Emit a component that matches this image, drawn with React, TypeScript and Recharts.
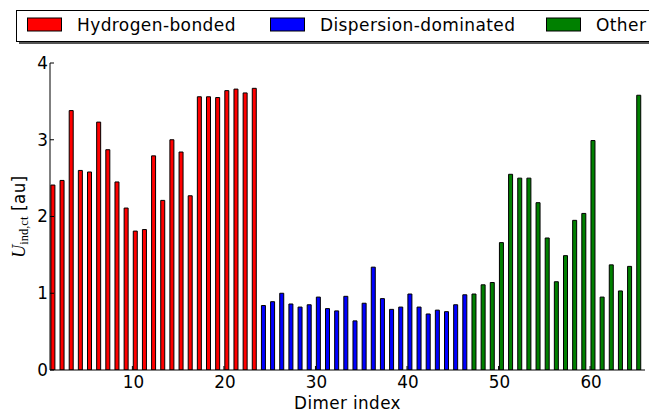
import React from 'react';
import { BarChart, Bar, XAxis, YAxis, Cell } from 'recharts';

// ---- data ----
const hydrogenBonded = [2.41, 2.47, 3.38, 2.6, 2.58, 3.23, 2.87, 2.45, 2.11, 1.81, 1.83, 2.79, 2.21, 3.0, 2.84, 2.27, 3.56, 3.56, 3.55, 3.64, 3.66, 3.61, 3.67];
const dispersionDominated = [0.84, 0.89, 1.0, 0.86, 0.82, 0.85, 0.95, 0.8, 0.77, 0.96, 0.64, 0.87, 1.34, 0.93, 0.79, 0.82, 0.99, 0.82, 0.73, 0.78, 0.76, 0.85, 0.98];
const other = [0.99, 1.11, 1.14, 1.66, 2.55, 2.5, 2.5, 2.18, 1.72, 1.15, 1.49, 1.95, 2.04, 2.99, 0.95, 1.37, 1.03, 1.35, 3.58];

const groupNames = ['Hydrogen-bonded', 'Dispersion-dominated', 'Other'];
const groupColors = ['#ff0000', '#0000ff', '#008000'];
const xTicks = [10, 20, 30, 40, 50, 60];
const yTicks = [0, 1, 2, 3, 4];
const xDomain: [number, number] = [1, 66];
const yDomain: [number, number] = [0, 4];

// bars are edge-aligned (left edge at the index), width ~0.55
const BAR_CENTER_SHIFT = 0.27;

const groups = [hydrogenBonded, dispersionDominated, other];
const data: { index: number; pos: number; value: number; group: number }[] = [];
groups.forEach((vals, g) =>
  vals.forEach((v) => {
    const index = data.length + 1;
    data.push({ index, pos: index + BAR_CENTER_SHIFT, value: v, group: g });
  })
);

const FONT = 'DejaVu Sans';
const FS = 16.8;
const LS = 0.4;
const TICK_LEN = 4;
const AX = '#000';

const BottomTick = (props: any) => {
  const { x, y, payload } = props;
  return (
    <g>
      <line x1={x} x2={x} y1={y} y2={y - TICK_LEN} stroke={AX} strokeWidth={1} />
      <text x={x + 1} y={y + 18.3} textAnchor="middle" fontSize={FS} fontFamily={FONT} fill="#000">
        {payload.value}
      </text>
    </g>
  );
};

const TopTick = (props: any) => {
  const { x, y } = props;
  return <line x1={x} x2={x} y1={y} y2={y + TICK_LEN} stroke={AX} strokeWidth={1} />;
};

const LeftTick = (props: any) => {
  const { x, y, payload } = props;
  return (
    <g>
      <line x1={x} x2={x + TICK_LEN} y1={y} y2={y} stroke={AX} strokeWidth={1} />
      <text x={x - 2} y={y + 5.8} textAnchor="end" fontSize={FS} fontFamily={FONT} fill="#000">
        {payload.value}
      </text>
    </g>
  );
};

const RightTick = (props: any) => {
  const { x, y } = props;
  return <line x1={x} x2={x - TICK_LEN} y1={y} y2={y} stroke={AX} strokeWidth={1} />;
};

const YLabel = (props: any) => {
  const vb = props.viewBox || {};
  const cx = (vb.x || 0) + 25;
  const cy = (vb.y || 0) + (vb.height || 0) / 2;
  return (
    <text
      x={cx}
      y={cy}
      transform={`rotate(-90, ${cx}, ${cy})`}
      textAnchor="middle"
      fontSize={FS}
      fill="#000"
      fontFamily={FONT}
    >
      <tspan fontFamily="Liberation Serif" fontStyle="italic" fontSize={18}>U</tspan>
      <tspan fontFamily="Liberation Serif" fontSize={12.5} dy={3}>ind,ct</tspan>
      <tspan dy={-3} fontFamily={FONT} letterSpacing={LS}> [au]</tspan>
    </text>
  );
};

const XLabel = (props: any) => {
  const vb = props.viewBox || {};
  const cx = (vb.x || 0) + (vb.width || 0) / 2;
  const y = (vb.y || 0) + 38.5;
  return (
    <text x={cx} y={y} textAnchor="middle" fontSize={FS} fontFamily={FONT} letterSpacing={LS} fill="#000">
      Dimer index
    </text>
  );
};

const legendSwatchX = [27, 270, 546];

const LegendBox = () => (
  <svg
    width={649}
    height={411}
    style={{ position: 'absolute', left: 0, top: 0, pointerEvents: 'none' }}
  >
    <rect x={19} y={13} width={660} height={31} fill="#555" />
    <rect x={16.5} y={10.5} width={660} height={31} fill="#fff" stroke="#000" strokeWidth={1} />
    {groupNames.map((name, i) => (
      <g key={name}>
        <rect
          x={legendSwatchX[i] + 0.5}
          y={18}
          width={34}
          height={13}
          fill={groupColors[i]}
          stroke="#000"
          strokeWidth={1}
        />
        <text
          x={legendSwatchX[i] + 50}
          y={31}
          fontSize={17}
          fontFamily={FONT}
          letterSpacing={LS}
          fill="#000"
        >
          {name}
        </text>
      </g>
    ))}
  </svg>
);

export default function App() {
  return (
    <div
      style={{
        position: 'absolute',
        left: 0,
        top: 0,
        width: 649,
        height: 411,
        overflow: 'hidden',
        background: '#fff',
      }}
    >
      <BarChart
        width={649}
        height={411}
        data={data}
        margin={{ top: 63, right: 4, bottom: 0, left: 0 }}
      >
        <XAxis
          xAxisId="bottom"
          dataKey="pos"
          type="number"
          domain={xDomain}
          allowDataOverflow
          ticks={xTicks}
          interval={0}
          tickSize={0}
          tickMargin={0}
          tickLine={false}
          axisLine={{ stroke: AX, strokeWidth: 1 }}
          tick={<BottomTick />}
          height={41}
          label={<XLabel />}
        />
        <XAxis
          xAxisId="top"
          orientation="top"
          dataKey="pos"
          type="number"
          domain={xDomain}
          allowDataOverflow
          ticks={xTicks}
          interval={0}
          tickSize={0}
          tickMargin={0}
          tickLine={false}
          axisLine={{ stroke: AX, strokeWidth: 1 }}
          tick={<TopTick />}
          height={0}
        />
        <YAxis
          yAxisId="left"
          type="number"
          domain={yDomain}
          allowDataOverflow
          ticks={yTicks}
          interval={0}
          tickSize={0}
          tickMargin={0}
          tickLine={false}
          axisLine={{ stroke: AX, strokeWidth: 1 }}
          tick={<LeftTick />}
          width={50}
          label={<YLabel />}
        />
        <YAxis
          yAxisId="right"
          orientation="right"
          type="number"
          domain={yDomain}
          allowDataOverflow
          ticks={yTicks}
          interval={0}
          tickSize={0}
          tickMargin={0}
          tickLine={false}
          axisLine={{ stroke: AX, strokeWidth: 1 }}
          tick={<RightTick />}
          width={0}
        />
        <Bar
          xAxisId="bottom"
          yAxisId="left"
          dataKey="value"
          barSize={4}
          stroke="#000"
          strokeWidth={1}
          isAnimationActive={false}
        >
          {data.map((d) => (
            <Cell key={d.index} fill={groupColors[d.group]} />
          ))}
        </Bar>
      </BarChart>
      <LegendBox />
    </div>
  );
}
